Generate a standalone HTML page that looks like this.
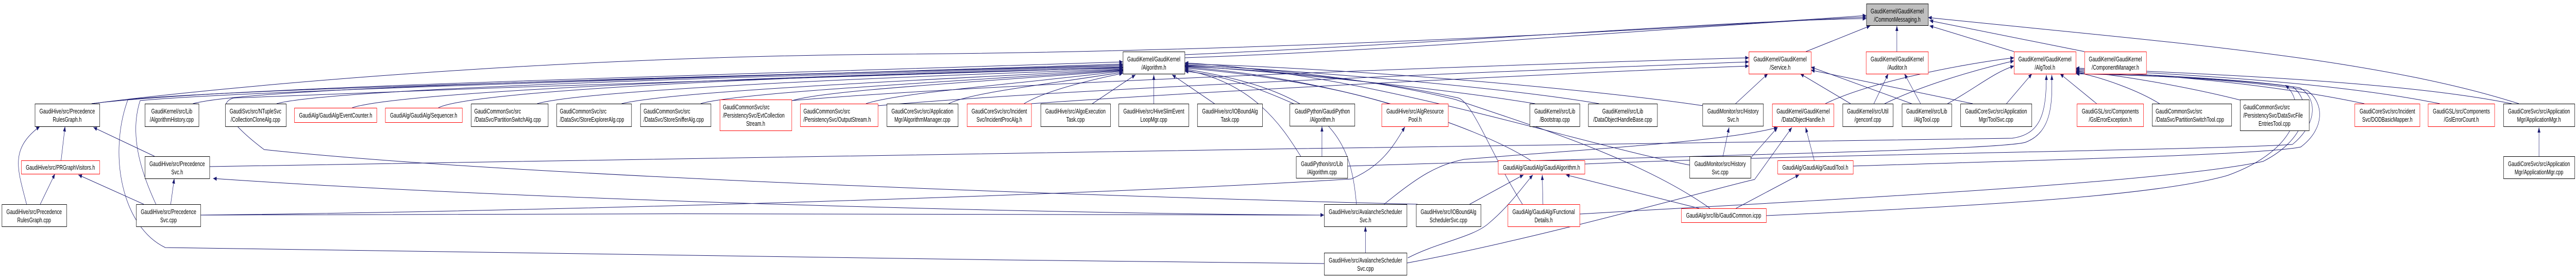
<!DOCTYPE html>
<html><head><meta charset="utf-8"><style>
html,body{margin:0;padding:0;background:#fff;width:100%;height:100%;overflow:hidden;}
svg{display:block;width:100vw;height:100vh;}
text{font-family:"Liberation Sans",Arial,sans-serif;font-size:13px;fill:#000;}
.c{text-anchor:middle;}
.e{fill:none;stroke:#191970;stroke-width:1;marker-end:url(#a);}
.r{fill:#fff;stroke:#ff0000;stroke-width:1;}
.b{fill:#fff;stroke:#000;stroke-width:1;}
</style></head><body>
<svg width="100%" height="100%" viewBox="0 0 7169 539" preserveAspectRatio="none" xmlns="http://www.w3.org/2000/svg">
<defs><marker id="a" markerWidth="10" markerHeight="8" refX="10" refY="4" orient="auto" markerUnits="userSpaceOnUse"><path d="M0,0 L10,4 L0,8 z" fill="#191970"/></marker></defs>
<g>
<path class="e" d="M255,201 C600,170 1500,110 2500,105 C3500,100 4600,60 5194,30"/>
<path class="e" d="M3297,112 C4000,95 4800,45 5194,33"/>
<path class="e" d="M3297,106 C4000,85 4800,40 5194,36"/>
<path class="e" d="M5026,100 L5205,50"/>
<path class="e" d="M5279,100 L5279,50"/>
<path class="e" d="M5605,100 L5370,50"/>
<path class="e" d="M5801,100 L5370,40"/>
<path class="e" d="M7010,201 C6600,110 6000,80 5366,34"/>
<path class="e" d="M255,201 C600,170 1800,150 3125,120"/>
<path class="e" d="M537,201 C700,170 1800,150 3125,128"/>
<path class="e" d="M770,201 C900,175 1900,150 3125,130"/>
<path class="e" d="M980,209 C1100,180 2000,150 3125,132"/>
<path class="e" d="M1220,209 C1300,180 2000,150 3125,132"/>
<path class="e" d="M1495,201 C1600,180 2200,155 3125,134"/>
<path class="e" d="M1730,201 C1850,180 2400,160 3125,135"/>
<path class="e" d="M1950,201 C2050,180 2600,160 3125,136"/>
<path class="e" d="M2205,195 C2300,175 2700,160 3125,137"/>
<path class="e" d="M2410,201 C2500,180 2800,165 3125,138"/>
<path class="e" d="M2640,201 C2700,180 2900,165 3125,140"/>
<path class="e" d="M2850,201 C2900,180 3000,160 3125,142"/>
<path class="e" d="M434,396 C390,330 360,260 390,195 C700,175 2000,150 3125,124"/>
<path class="e" d="M3685,511 C2500,505 1000,480 460,480 C340,440 300,300 356,193 C700,170 2000,150 3125,126"/>
<path class="e" d="M3945,396 C3000,380 1400,340 735,290 C640,240 600,200 650,190 C1500,165 2500,145 3125,131"/>
<path class="e" d="M3040,201 L3160,145"/>
<path class="e" d="M3211,201 L3211,145"/>
<path class="e" d="M3380,201 L3262,145"/>
<path class="e" d="M3600,201 C3500,170 3400,145 3297,138"/>
<path class="e" d="M3865,201 C3700,165 3450,140 3297,132"/>
<path class="e" d="M4272,201 C4000,170 3500,135 3297,128"/>
<path class="e" d="M4450,201 C4200,170 3600,135 3297,126"/>
<path class="e" d="M4740,205 C4400,170 3700,130 3297,124"/>
<path class="e" d="M4702,320 C4400,280 3800,140 3297,122"/>
<path class="e" d="M4260,311 C4100,240 3700,150 3297,130"/>
<path class="e" d="M3620,303 C3580,260 3500,160 3297,136"/>
<path class="e" d="M3775,396 C3760,280 3720,180 3297,134"/>
<path class="e" d="M4237,396 C4150,300 4100,200 4059,190 C3800,150 3500,135 3297,129"/>
<path class="e" d="M4759,404 C4550,300 4200,230 4051,193 C3800,150 3500,130 3297,127"/>
<path class="e" d="M2203,195 C2800,160 4200,125 4867,112"/>
<path class="e" d="M2443,205 C3000,170 4300,135 4867,120"/>
<path class="e" d="M2870,201 C3400,175 4400,140 4867,128"/>
<path class="e" d="M4830,201 L4920,143"/>
<path class="e" d="M5150,201 L5010,143"/>
<path class="e" d="M5320,201 L5040,130"/>
<path class="e" d="M5490,201 L5040,136"/>
<path class="e" d="M5215,201 L5255,143"/>
<path class="e" d="M5345,201 L5300,143"/>
<path class="e" d="M5080,201 C5200,160 5450,125 5605,112"/>
<path class="e" d="M5245,201 C5350,165 5500,135 5605,118"/>
<path class="e" d="M5420,201 C5500,170 5550,140 5605,128"/>
<path class="e" d="M5584,201 L5655,143"/>
<path class="e" d="M5835,201 L5733,143"/>
<path class="e" d="M6010,201 C5950,175 5850,150 5777,140"/>
<path class="e" d="M6240,195 C6100,170 5900,145 5777,138"/>
<path class="e" d="M6580,201 C6300,160 6000,145 5777,136"/>
<path class="e" d="M6790,201 C6500,160 6100,145 5777,134"/>
<path class="e" d="M6990,201 C6700,160 6200,145 5777,132"/>
<path class="e" d="M583,323 C2000,310 4000,280 5600,268 C5680,260 5695,220 5695,145"/>
<path class="e" d="M3750,322 C4500,305 5600,292 5640,275 C5710,255 5712,200 5710,145"/>
<path class="e" d="M5157,322 C5700,310 6300,300 6403,285 C6470,250 6470,200 6420,175 C6200,150 5900,145 5777,141"/>
<path class="e" d="M4410,318 C5000,300 6200,290 6380,280 C6450,240 6450,190 6400,170 C6200,150 5900,145 5777,143"/>
<path class="e" d="M4396,415 C5000,390 6000,357 6298,313 C6420,270 6440,200 6380,168 C6200,150 5900,143 5777,139"/>
<path class="e" d="M4915,418 C5500,400 6000,380 6200,340 C6400,290 6420,200 6360,165"/>
<path class="e" d="M170,311 L181,245"/>
<path class="e" d="M74,396 C50,330 25,290 111,245"/>
<path class="e" d="M112,396 L153,337"/>
<path class="e" d="M430,303 L260,247"/>
<path class="e" d="M400,396 L218,339"/>
<path class="e" d="M475,396 L485,346"/>
<path class="e" d="M3685,417 C3000,415 1500,390 593,346"/>
<path class="e" d="M558,417 C1500,410 3000,380 3761,347 C3850,320 3880,280 3910,246"/>
<path class="e" d="M558,417 C1500,416 3000,410 3685,417"/>
<path class="e" d="M3679,303 L3679,245"/>
<path class="e" d="M3800,490 L3800,439"/>
<path class="e" d="M3918,500 C4000,470 4100,460 4143,433 C4200,400 4240,360 4266,339"/>
<path class="e" d="M3852,396 C3950,340 4000,320 4074,309 C4400,290 4800,275 4947,247"/>
<path class="e" d="M4090,396 L4240,339"/>
<path class="e" d="M4294,396 L4292,339"/>
<path class="e" d="M4729,404 L4358,339"/>
<path class="e" d="M4831,404 L5007,339"/>
<path class="e" d="M4795,303 L4812,247"/>
<path class="e" d="M4870,308 L4947,247"/>
<path class="e" d="M3915,510 C4300,460 4800,360 4883,348 L4987,247"/>
<path class="e" d="M5049,311 L5025,247"/>
<path class="e" d="M7066,303 L7066,247"/>
</g>
<g>
<rect x="5194.5" y="7.5" width="172" height="42" fill="#bfbfbf" stroke="#000"/>
<text class="c" x="5280" y="26">GaudiKernel/GaudiKernel</text><text class="c" x="5280" y="42">/CommonMessaging.h</text>
<rect class="b" x="3125.5" y="100.5" width="172" height="43"/><text class="c" x="3211" y="119">GaudiKernel/GaudiKernel</text><text class="c" x="3211" y="135">/Algorithm.h</text>
<rect class="r" x="4867.5" y="100.5" width="173" height="43"/><text class="c" x="4954" y="119">GaudiKernel/GaudiKernel</text><text class="c" x="4954" y="135">/Service.h</text>
<rect class="r" x="5193.5" y="100.5" width="173" height="43"/><text class="c" x="5280" y="119">GaudiKernel/GaudiKernel</text><text class="c" x="5280" y="135">/Auditor.h</text>
<rect class="r" x="5605.5" y="100.5" width="172" height="43"/><text class="c" x="5691" y="119">GaudiKernel/GaudiKernel</text><text class="c" x="5691" y="135">/AlgTool.h</text>
<rect class="r" x="5801.5" y="100.5" width="172" height="43"/><text class="c" x="5887" y="119">GaudiKernel/GaudiKernel</text><text class="c" x="5887" y="135">/ComponentManager.h</text>
<rect class="b" x="97.5" y="201.5" width="180" height="44"/><text class="c" x="187" y="220">GaudiHive/src/Precedence</text><text class="c" x="187" y="236">RulesGraph.h</text>
<rect class="b" x="403.5" y="201.5" width="150" height="44"/><text class="c" x="478" y="220">GaudiKernel/src/Lib</text><text class="c" x="478" y="236">/AlgorithmHistory.cpp</text>
<rect class="b" x="627.5" y="201.5" width="169" height="44"/><text class="c" x="711" y="220">GaudiSvc/src/NTupleSvc</text><text class="c" x="711" y="236">/CollectionCloneAlg.cpp</text>
<rect class="r" x="819.5" y="209.5" width="229" height="28"/><text class="c" x="934" y="228">GaudiAlg/GaudiAlg/EventCounter.h</text>
<rect class="r" x="1072.5" y="209.5" width="214" height="28"/><text class="c" x="1179" y="228">GaudiAlg/GaudiAlg/Sequencer.h</text>
<rect class="b" x="1311.5" y="201.5" width="214" height="44"/><text x="1320" y="220">GaudiCommonSvc/src</text><text x="1320" y="236">/DataSvc/PartitionSwitchAlg.cpp</text>
<rect class="b" x="1549.5" y="201.5" width="208" height="44"/><text x="1558" y="220">GaudiCommonSvc/src</text><text x="1558" y="236">/DataSvc/StoreExplorerAlg.cpp</text>
<rect class="b" x="1782.5" y="201.5" width="196" height="44"/><text x="1791" y="220">GaudiCommonSvc/src</text><text x="1791" y="236">/DataSvc/StoreSnifferAlg.cpp</text>
<rect class="r" x="2003.5" y="193.5" width="200" height="60"/><text x="2012" y="212">GaudiCommonSvc/src</text><text x="2012" y="228">/PersistencySvc/EvtCollection</text><text class="c" x="2103" y="244">Stream.h</text>
<rect class="r" x="2227.5" y="201.5" width="216" height="44"/><text x="2236" y="220">GaudiCommonSvc/src</text><text x="2236" y="236">/PersistencySvc/OutputStream.h</text>
<rect class="b" x="2468.5" y="201.5" width="198" height="44"/><text class="c" x="2567" y="220">GaudiCoreSvc/src/Application</text><text class="c" x="2567" y="236">Mgr/AlgorithmManager.cpp</text>
<rect class="r" x="2691.5" y="201.5" width="179" height="44"/><text class="c" x="2781" y="220">GaudiCoreSvc/src/Incident</text><text class="c" x="2781" y="236">Svc/IncidentProcAlg.h</text>
<rect class="b" x="2896.5" y="201.5" width="194" height="44"/><text class="c" x="2993" y="220">GaudiHive/src/AlgoExecution</text><text class="c" x="2993" y="236">Task.cpp</text>
<rect class="b" x="3113.5" y="201.5" width="195" height="44"/><text class="c" x="3211" y="220">GaudiHive/src/HiveSlimEvent</text><text class="c" x="3211" y="236">LoopMgr.cpp</text>
<rect class="b" x="3332.5" y="201.5" width="181" height="44"/><text class="c" x="3423" y="220">GaudiHive/src/IOBoundAlg</text><text class="c" x="3423" y="236">Task.cpp</text>
<rect class="b" x="3589.5" y="201.5" width="181" height="43"/><text class="c" x="3680" y="220">GaudiPython/GaudiPython</text><text class="c" x="3680" y="236">/Algorithm.h</text>
<rect class="r" x="3845.5" y="201.5" width="185" height="44"/><text class="c" x="3938" y="220">GaudiHive/src/AlgResource</text><text class="c" x="3938" y="236">Pool.h</text>
<rect class="b" x="4257.5" y="201.5" width="139" height="44"/><text class="c" x="4327" y="220">GaudiKernel/src/Lib</text><text class="c" x="4327" y="236">/Bootstrap.cpp</text>
<rect class="b" x="4420.5" y="201.5" width="192" height="44"/><text class="c" x="4516" y="220">GaudiKernel/src/Lib</text><text class="c" x="4516" y="236">/DataObjectHandleBase.cpp</text>
<rect class="b" x="4738.5" y="201.5" width="169" height="43"/><text class="c" x="4823" y="220">GaudiMonitor/src/History</text><text class="c" x="4823" y="236">Svc.h</text>
<rect class="r" x="4932.5" y="201.5" width="171" height="44"/><text class="c" x="5018" y="220">GaudiKernel/GaudiKernel</text><text class="c" x="5018" y="236">/DataObjectHandle.h</text>
<rect class="b" x="5128.5" y="201.5" width="140" height="44"/><text class="c" x="5198" y="220">GaudiKernel/src/Util</text><text class="c" x="5198" y="236">/genconf.cpp</text>
<rect class="b" x="5293.5" y="201.5" width="138" height="44"/><text class="c" x="5362" y="220">GaudiKernel/src/Lib</text><text class="c" x="5362" y="236">/AlgTool.cpp</text>
<rect class="b" x="5456.5" y="201.5" width="198" height="44"/><text class="c" x="5555" y="220">GaudiCoreSvc/src/Application</text><text class="c" x="5555" y="236">Mgr/ToolSvc.cpp</text>
<rect class="r" x="5780.5" y="201.5" width="185" height="44"/><text class="c" x="5873" y="220">GaudiGSL/src/Components</text><text class="c" x="5873" y="236">/GslErrorException.h</text>
<rect class="b" x="5989.5" y="201.5" width="221" height="43"/><text x="5999" y="220">GaudiCommonSvc/src</text><text x="5999" y="236">/DataSvc/PartitionSwitchTool.cpp</text>
<rect class="b" x="6234.5" y="193.5" width="192" height="60"/><text x="6243" y="212">GaudiCommonSvc/src</text><text x="6243" y="228">/PersistencySvc/DataSvcFile</text><text class="c" x="6330" y="244">EntriesTool.cpp</text>
<rect class="r" x="6553.5" y="201.5" width="181" height="44"/><text class="c" x="6644" y="220">GaudiCoreSvc/src/Incident</text><text class="c" x="6644" y="236">Svc/DODBasicMapper.h</text>
<rect class="r" x="6757.5" y="201.5" width="185" height="44"/><text class="c" x="6850" y="220">GaudiGSL/src/Components</text><text class="c" x="6850" y="236">/GslErrorCount.h</text>
<rect class="b" x="6967.5" y="201.5" width="198" height="44"/><text class="c" x="7066" y="220">GaudiCoreSvc/src/Application</text><text class="c" x="7066" y="236">Mgr/ApplicationMgr.h</text>
<rect class="r" x="59.5" y="311.5" width="218" height="26"/><text class="c" x="168" y="329">GaudiHive/src/PRGraphVisitors.h</text>
<rect class="b" x="403.5" y="303.5" width="180" height="43"/><text class="c" x="493" y="322">GaudiHive/src/Precedence</text><text class="c" x="493" y="338">Svc.h</text>
<rect class="b" x="3607.5" y="303.5" width="143" height="42"/><text class="c" x="3679" y="322">GaudiPython/src/Lib</text><text class="c" x="3679" y="338">/Algorithm.cpp</text>
<rect class="r" x="4169.5" y="311.5" width="241" height="26"/><text class="c" x="4290" y="329">GaudiAlg/GaudiAlg/GaudiAlgorithm.h</text>
<rect class="b" x="4702.5" y="303.5" width="170" height="42"/><text class="c" x="4787" y="322">GaudiMonitor/src/History</text><text class="c" x="4787" y="338">Svc.cpp</text>
<rect class="r" x="4947.5" y="311.5" width="210" height="26"/><text class="c" x="5052" y="329">GaudiAlg/GaudiAlg/GaudiTool.h</text>
<rect class="b" x="6967.5" y="303.5" width="198" height="43"/><text class="c" x="7066" y="322">GaudiCoreSvc/src/Application</text><text class="c" x="7066" y="338">Mgr/ApplicationMgr.cpp</text>
<rect class="b" x="5.5" y="396.5" width="180" height="43"/><text class="c" x="95" y="415">GaudiHive/src/Precedence</text><text class="c" x="95" y="431">RulesGraph.cpp</text>
<rect class="b" x="379.5" y="396.5" width="179" height="43"/><text class="c" x="469" y="415">GaudiHive/src/Precedence</text><text class="c" x="469" y="431">Svc.cpp</text>
<rect class="b" x="3685.5" y="396.5" width="230" height="43"/><text class="c" x="3800" y="415">GaudiHive/src/AvalancheScheduler</text><text class="c" x="3800" y="431">Svc.h</text>
<rect class="b" x="3941.5" y="396.5" width="180" height="43"/><text class="c" x="4031" y="415">GaudiHive/src/IOBoundAlg</text><text class="c" x="4031" y="431">SchedulerSvc.cpp</text>
<rect class="r" x="4196.5" y="396.5" width="200" height="43"/><text class="c" x="4296" y="415">GaudiAlg/GaudiAlg/Functional</text><text class="c" x="4296" y="431">Details.h</text>
<rect class="r" x="4679.5" y="404.5" width="236" height="27"/><text class="c" x="4797" y="422">GaudiAlg/src/lib/GaudiCommon.icpp</text>
<rect class="b" x="3685.5" y="490.5" width="230" height="43"/><text class="c" x="3800" y="509">GaudiHive/src/AvalancheScheduler</text><text class="c" x="3800" y="525">Svc.cpp</text>
</g>
</svg>
</body></html>
